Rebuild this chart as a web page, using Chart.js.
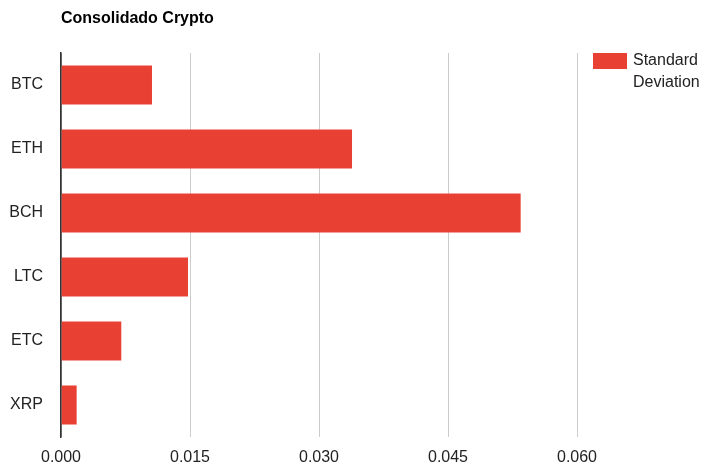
<!DOCTYPE html>
<html>
<head>
<meta charset="utf-8">
<script src="https://cdn.jsdelivr.net/npm/chart.js@4/dist/chart.umd.min.js"></script>
<style>
  html, body { margin: 0; padding: 0; background: #fff; }
  #wrap { width: 701px; height: 465px; }
</style>
</head>
<body>
<div id="wrap"><canvas id="myChart" width="701" height="465"></canvas></div>
<script>
const coins = ['BTC', 'ETH', 'BCH', 'LTC', 'ETC', 'XRP'];
const stdDev = [0.01058, 0.03384, 0.05345, 0.01477, 0.00701, 0.00182];
const xTicks = [0, 0.015, 0.030, 0.045, 0.060];
const chartTitle = 'Consolidado Crypto';
const seriesName = ['Standard', 'Deviation'];

const barColor = '#e94034';
const fontFamily = 'Arial, "Liberation Sans", sans-serif';

// title + legend drawn by hand, google charts style
const decorations = {
    id: 'decorations',
    afterDraw(chart) {
        const c = chart.ctx;
        const area = chart.chartArea;
        c.save();
        c.fillStyle = '#000';
        c.font = 'bold 16px ' + fontFamily;
        c.textBaseline = 'middle';
        c.fillText(chartTitle, area.left, 19);

        c.fillStyle = barColor;
        c.fillRect(593, 53, 34, 16);
        c.fillStyle = '#222';
        c.font = '16px ' + fontFamily;
        c.fillText(seriesName[0], 633, 61);
        c.fillText(seriesName[1], 633, 83);
        c.restore();
    }
};

const ctx = document.getElementById('myChart').getContext('2d');

new Chart(ctx, {
    type: 'bar',
    data: {
        labels: coins,
        datasets: [{
            label: seriesName.join(' '),
            data: stdDev,
            backgroundColor: barColor,
            borderWidth: 0,
            categoryPercentage: 1,
            barPercentage: 0.61
        }]
    },
    options: {
        indexAxis: 'y',
        responsive: false,
        animation: false,
        devicePixelRatio: 1,
        layout: {
            padding: { left: 0, top: 53, right: 124, bottom: 0 }
        },
        scales: {
            x: {
                min: 0,
                max: 0.06,
                afterBuildTicks: (scale) => {
                    scale.ticks = xTicks.map(v => ({ value: v }));
                },
                afterFit: (scale) => { scale.height = 28; },
                grid: {
                    color: (c) => c.tick && c.tick.value === 0 ? '#333' : '#ccc',
                    lineWidth: (c) => c.tick && c.tick.value === 0 ? 1.5 : 1,
                    drawTicks: false
                },
                border: { display: false },
                ticks: {
                    padding: 11,
                    color: '#222',
                    font: { family: fontFamily, size: 16 },
                    callback: (v) => Number(v).toFixed(3)
                }
            },
            y: {
                afterFit: (scale) => { scale.width = 61; },
                grid: { display: false, drawTicks: false },
                border: { display: true, color: '#333', width: 1.5 },
                ticks: {
                    padding: 18,
                    color: '#222',
                    font: { family: fontFamily, size: 16 }
                }
            }
        },
        plugins: {
            legend: { display: false },
            title: { display: false },
            tooltip: { enabled: false }
        }
    },
    plugins: [decorations]
});
</script>
</body>
</html>
